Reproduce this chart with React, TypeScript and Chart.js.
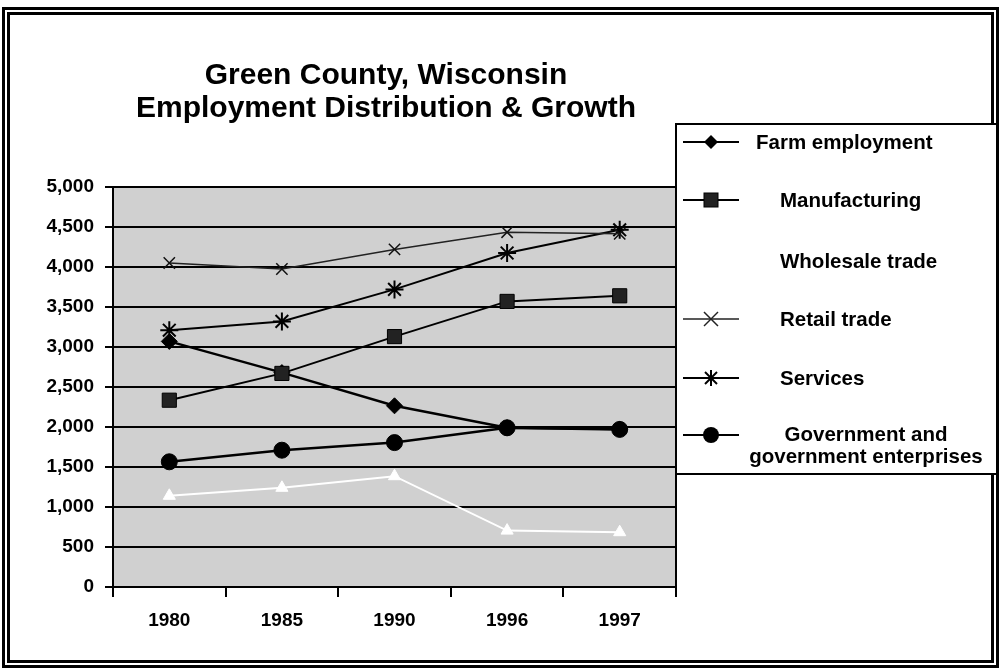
import React, { useEffect, useRef } from "react";
import { Chart, registerables } from "chart.js";

Chart.register(...registerables);

const years = ["1980", "1985", "1990", "1996", "1997"];
const farmEmployment = [3070, 2680, 2265, 1990, 1975];
const manufacturing = [2335, 2670, 3130, 3570, 3640];
const wholesaleTrade = [1140, 1240, 1385, 705, 685];
const retailTrade = [4050, 3975, 4220, 4435, 4415];
const services = [3210, 3320, 3720, 4175, 4465];
const government = [1565, 1710, 1805, 1990, 1970];
const yMin = 0;
const yMax = 5000;
const yStep = 500;
const titleLines = ["Green County, Wisconsin", "Employment Distribution & Growth"];

const FONT = "'Liberation Sans', Arial, sans-serif";

const plotBackground = {
  id: "plotBackground",
  beforeDraw(chart: any) {
    const { ctx, chartArea } = chart;
    ctx.save();
    ctx.fillStyle = "#d0d0d0";
    ctx.fillRect(chartArea.left, chartArea.top, chartArea.right - chartArea.left, chartArea.bottom - chartArea.top);
    ctx.restore();
  },
  afterDraw(chart: any) {
    const { ctx, chartArea } = chart;
    ctx.save();
    ctx.strokeStyle = "#000";
    ctx.lineWidth = 2;
    ctx.beginPath();
    ctx.moveTo(chartArea.right, chartArea.top);
    ctx.lineTo(chartArea.right, chartArea.bottom);
    ctx.stroke();
    ctx.restore();
  },
};

type LegendItem = {
  label: string[];
  marker: string;
  color: string;
  fill: string;
  width: number;
  cy: number;
  textLeft?: number;
};

const legendItems: LegendItem[] = [
  { label: ["Farm employment"], marker: "diamond", color: "#000", fill: "#000", width: 2, cy: 18, textLeft: 79 },
  { label: ["Manufacturing"], marker: "square", color: "#000", fill: "#222", width: 2, cy: 76, textLeft: 103 },
  { label: ["Wholesale trade"], marker: "triangle", color: "#fff", fill: "#fff", width: 2, cy: 137, textLeft: 103 },
  { label: ["Retail trade"], marker: "x", color: "#222", fill: "none", width: 1.5, cy: 195, textLeft: 103 },
  { label: ["Services"], marker: "star", color: "#000", fill: "none", width: 2, cy: 254, textLeft: 103 },
  { label: ["Government and", "government enterprises"], marker: "circle", color: "#000", fill: "#000", width: 2, cy: 311 },
];

function Marker({ kind, color, fill }: { kind: string; color: string; fill: string }) {
  const c = 30;
  const m = 11;
  if (kind === "diamond") return <polygon points={`${c},${m - 7} ${c + 7},${m} ${c},${m + 7} ${c - 7},${m}`} fill={fill} />;
  if (kind === "square") return <rect x={c - 7} y={m - 7} width={14} height={14} fill={fill} stroke="#000" strokeWidth={1} />;
  if (kind === "triangle") return <polygon points={`${c},${m - 6} ${c + 6},${m + 5} ${c - 6},${m + 5}`} fill={fill} />;
  if (kind === "x")
    return (
      <g stroke={color} strokeWidth={1.5}>
        <line x1={c - 7} y1={m - 7} x2={c + 7} y2={m + 7} />
        <line x1={c - 7} y1={m + 7} x2={c + 7} y2={m - 7} />
      </g>
    );
  if (kind === "star")
    return (
      <g stroke={color} strokeWidth={2}>
        <line x1={c - 6} y1={m - 6} x2={c + 6} y2={m + 6} />
        <line x1={c - 6} y1={m + 6} x2={c + 6} y2={m - 6} />
        <line x1={c} y1={m - 8} x2={c} y2={m + 8} />
      </g>
    );
  return <circle cx={c} cy={m} r={8} fill={fill} />;
}

export default function App() {
  const canvasRef = useRef<HTMLCanvasElement | null>(null);

  useEffect(() => {
    if (!canvasRef.current) return;
    const yTicks: number[] = [];
    for (let v = yMin; v <= yMax; v += yStep) yTicks.push(v);

    const chart = new Chart(canvasRef.current, {
      type: "line",
      data: {
        labels: years,
        datasets: [
          {
            label: "Wholesale trade",
            data: wholesaleTrade,
            borderColor: "#ffffff",
            backgroundColor: "#ffffff",
            borderWidth: 2,
            pointStyle: "triangle",
            pointRadius: 7,
            pointBorderWidth: 1,
            pointBorderColor: "#ffffff",
            pointBackgroundColor: "#ffffff",
          },
          {
            label: "Retail trade",
            data: retailTrade,
            borderColor: "#222222",
            backgroundColor: "#222222",
            borderWidth: 1.5,
            pointStyle: "crossRot",
            pointRadius: 8,
            pointBorderWidth: 1.5,
            pointBorderColor: "#111",
          },
          {
            label: "Services",
            data: services,
            borderColor: "#000",
            backgroundColor: "#000",
            borderWidth: 2,
            pointStyle: "star",
            pointRadius: 9,
            pointBorderWidth: 2,
            pointBorderColor: "#000",
          },
          {
            label: "Manufacturing",
            data: manufacturing,
            borderColor: "#000",
            backgroundColor: "#222",
            borderWidth: 2,
            pointStyle: "rect",
            pointRadius: 10,
            pointBorderWidth: 1,
            pointBorderColor: "#000",
            pointBackgroundColor: "#222",
          },
          {
            label: "Farm employment",
            data: farmEmployment,
            borderColor: "#000",
            backgroundColor: "#000",
            borderWidth: 2.5,
            pointStyle: "rectRot",
            pointRadius: 8,
            pointBorderWidth: 1,
            pointBackgroundColor: "#000",
          },
          {
            label: "Government and government enterprises",
            data: government,
            borderColor: "#000",
            backgroundColor: "#000",
            borderWidth: 2.5,
            pointStyle: "circle",
            pointRadius: 8,
            pointBorderWidth: 1,
            pointBackgroundColor: "#000",
          },
        ],
      },
      options: {
        responsive: false,
        animation: false,
        layout: { padding: { left: 0, top: 187, right: 1001 - 676, bottom: 670 - 587 - 40 } },
        plugins: {
          legend: { display: false },
          title: { display: false },
          tooltip: { enabled: false },
        },
        scales: {
          x: {
            type: "category",
            offset: true,
            grid: {
              offset: true,
              drawOnChartArea: false,
              drawTicks: true,
              tickLength: 10,
              color: "#000",
              lineWidth: 2,
            },
            border: { display: true, color: "#000", width: 2 },
            ticks: {
              color: "#000",
              font: { family: FONT, size: 19, weight: "bold" },
              padding: 12,
              maxRotation: 0,
              autoSkip: false,
            },
            afterFit: (s: any) => {
              s.height = 40;
            },
          },
          y: {
            min: yMin,
            max: yMax,
            afterBuildTicks: (s: any) => {
              s.ticks = yTicks.map((v) => ({ value: v }));
            },
            ticks: {
              color: "#000",
              font: { family: FONT, size: 19, weight: "bold" },
              padding: 11,
              callback: (v: any) => Number(v).toLocaleString("en-US"),
            },
            grid: { color: "#000", lineWidth: 2, tickLength: 8, drawTicks: true },
            border: { display: true, color: "#000", width: 2 },
            afterFit: (s: any) => {
              s.width = 113;
            },
          },
        },
      },
      plugins: [plotBackground],
    });
    return () => chart.destroy();
  }, []);

  return (
    <div style={{ position: "absolute", left: 0, top: 0, width: 1001, height: 670, background: "#fff", overflow: "hidden" }}>
      <canvas ref={canvasRef} width={1001} height={670} style={{ position: "absolute", left: 0, top: 0, width: 1001, height: 670 }} />
      <div
        style={{
          position: "absolute",
          left: 2,
          top: 7,
          width: 997,
          height: 661,
          boxSizing: "border-box",
          border: "8px double #000",
          pointerEvents: "none",
        }}
      />
      <div
        style={{
          position: "absolute",
          left: 86,
          top: 57,
          width: 600,
          textAlign: "center",
          fontFamily: FONT,
          fontWeight: "bold",
          fontSize: 30,
          lineHeight: "33px",
          color: "#000",
        }}
      >
        {titleLines.map((t) => (
          <div key={t}>{t}</div>
        ))}
      </div>
      <div
        style={{
          position: "absolute",
          left: 675,
          top: 123,
          width: 323,
          height: 352,
          boxSizing: "border-box",
          border: "2px solid #000",
          background: "#fff",
          fontFamily: FONT,
          fontWeight: "bold",
          fontSize: 20.5,
          color: "#000",
        }}
      >
        {legendItems.map((it) => (
          <React.Fragment key={it.label.join(" ")}>
            <svg
              width={62}
              height={22}
              style={{ position: "absolute", left: 4, top: it.cy - 11 - 1 }}
            >
              <line x1={2} y1={11} x2={58} y2={11} stroke={it.color} strokeWidth={it.width} />
              <Marker kind={it.marker} color={it.color} fill={it.fill} />
            </svg>
            {it.label.length === 1 ? (
              <div
                style={{
                  position: "absolute",
                  left: it.textLeft,
                  top: it.cy - 12 - 1,
                  lineHeight: "24px",
                  whiteSpace: "nowrap",
                }}
              >
                {it.label[0]}
              </div>
            ) : (
              <div
                style={{
                  position: "absolute",
                  left: 60,
                  width: 258,
                  top: it.cy - 12 - 1,
                  lineHeight: "22px",
                  textAlign: "center",
                  whiteSpace: "nowrap",
                }}
              >
                {it.label.map((l) => (
                  <div key={l}>{l}</div>
                ))}
              </div>
            )}
          </React.Fragment>
        ))}
      </div>
    </div>
  );
}
